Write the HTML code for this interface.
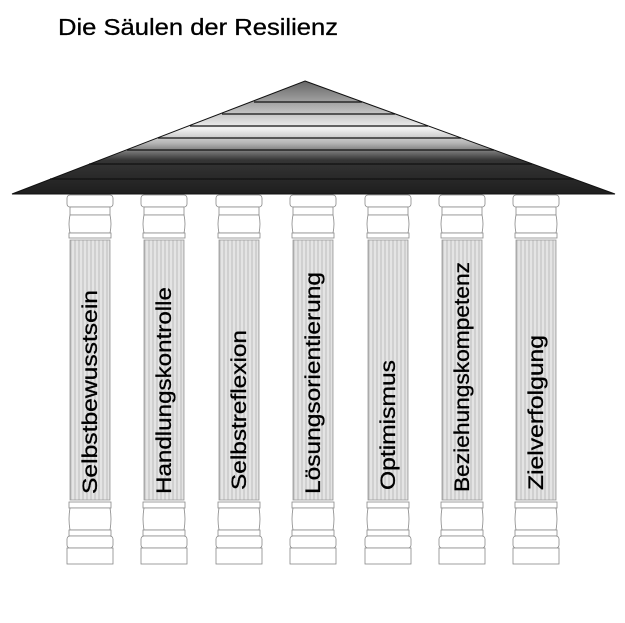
<!DOCTYPE html>
<html><head><meta charset="utf-8"><style>
html,body{margin:0;padding:0;background:#fff;}
svg{display:block;}
</style></head><body>
<svg width="625" height="623" viewBox="0 0 625 623" xmlns="http://www.w3.org/2000/svg">
<defs>
<linearGradient id="rg" x1="0" y1="81" x2="0" y2="194" gradientUnits="userSpaceOnUse">
<stop offset="0" stop-color="#666"/>
<stop offset="0.18" stop-color="#a0a0a0"/>
<stop offset="0.42" stop-color="#f2f2f2"/>
<stop offset="0.55" stop-color="#b5b5b5"/>
<stop offset="0.7" stop-color="#353535"/>
<stop offset="1" stop-color="#1e1e1e"/>
</linearGradient>
<pattern id="fl" x="0" y="0" width="4" height="10" patternUnits="userSpaceOnUse">
<rect width="4" height="10" fill="#f4f4f4"/>
<line x1="1" y1="0" x2="1" y2="10" stroke="#999" stroke-width="0.8"/>
<line x1="3" y1="0" x2="3" y2="10" stroke="#c8c8c8" stroke-width="0.7"/>
</pattern>
<g id="col">
<rect x="-23" y="195" width="46" height="12" rx="3" fill="#fff" stroke="#888" stroke-width="0.8"/>
<rect x="-20" y="207" width="40" height="8" fill="#fff" stroke="#888" stroke-width="0.8"/>
<path d="M-20 215 Q-22 224 -20 233 L20 233 Q22 224 20 215 Z" fill="#fff" stroke="#888" stroke-width="0.8"/>
<rect x="-21" y="233" width="42" height="5" fill="#fff" stroke="#888" stroke-width="0.8"/>
<rect x="-20" y="240" width="40" height="260" fill="url(#fl)" stroke="#999" stroke-width="0.8"/>
<rect x="-21" y="502" width="42" height="6" fill="#fff" stroke="#888" stroke-width="0.8"/>
<path d="M-20 508 Q-22 519 -20 530 L20 530 Q22 519 20 508 Z" fill="#fff" stroke="#888" stroke-width="0.8"/>
<rect x="-21" y="530" width="42" height="6" fill="#fff" stroke="#888" stroke-width="0.8"/>
<rect x="-23" y="536" width="46" height="12" rx="3" fill="#fff" stroke="#888" stroke-width="0.8"/>
<rect x="-23" y="548" width="46" height="16" fill="#fff" stroke="#888" stroke-width="0.8"/>
</g>
</defs>
<text x="58" y="35" font-family="Liberation Sans, sans-serif" font-size="23" fill="#000" stroke="#000" stroke-width="0.3" textLength="280" lengthAdjust="spacingAndGlyphs">Die Säulen der Resilienz</text>
<polygon points="305,81 615,194 12,194" fill="url(#rg)" stroke="#111" stroke-width="1"/>
<g stroke="#111" stroke-width="1.2">
<line x1="254" y1="102" x2="362" y2="102"/>
<line x1="222" y1="114" x2="395" y2="114"/>
<line x1="190" y1="126" x2="428" y2="126"/>
<line x1="158" y1="138" x2="461" y2="138"/>
<line x1="127" y1="150" x2="494" y2="150"/>
<line x1="89" y1="164" x2="532" y2="164"/>
<line x1="50" y1="179" x2="574" y2="179"/>
</g>
<use href="#col" x="90"/>
<use href="#col" x="164"/>
<use href="#col" x="239"/>
<use href="#col" x="313"/>
<use href="#col" x="388"/>
<use href="#col" x="462"/>
<use href="#col" x="536"/>
<g font-family="Liberation Sans, sans-serif" font-size="21" fill="#000" stroke="#000" stroke-width="0.3">
<text transform="translate(97,494) rotate(-90)" textLength="204" lengthAdjust="spacingAndGlyphs">Selbstbewusstsein</text>
<text transform="translate(171,494) rotate(-90)" textLength="207" lengthAdjust="spacingAndGlyphs">Handlungskontrolle</text>
<text transform="translate(246,490) rotate(-90)" textLength="160" lengthAdjust="spacingAndGlyphs">Selbstreflexion</text>
<text transform="translate(320,494) rotate(-90)" textLength="222" lengthAdjust="spacingAndGlyphs">Lösungsorientierung</text>
<text transform="translate(395,490) rotate(-90)" textLength="130" lengthAdjust="spacingAndGlyphs">Optimismus</text>
<text transform="translate(469,492) rotate(-90)" textLength="230" lengthAdjust="spacingAndGlyphs">Beziehungskompetenz</text>
<text transform="translate(543,490) rotate(-90)" textLength="155" lengthAdjust="spacingAndGlyphs">Zielverfolgung</text>
</g>
</svg>
</body></html>
